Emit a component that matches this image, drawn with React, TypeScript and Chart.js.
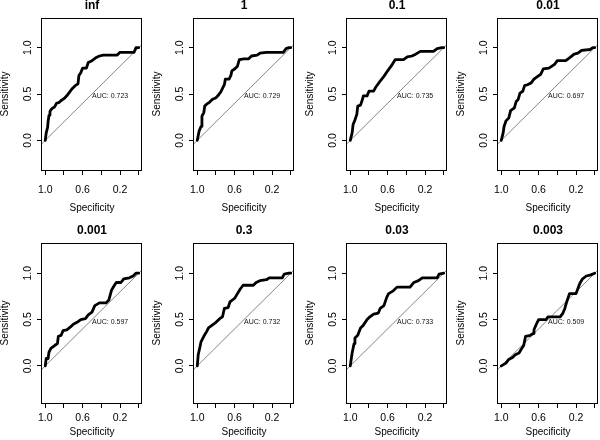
import { useEffect, useRef } from "react";
import { Chart, registerables } from "chart.js";

Chart.register(...registerables);

// ---- data ----
const panelTitles = ["inf", "1", "0.1", "0.01", "0.001", "0.3", "0.03", "0.003"];
const aucValues = ["0.723", "0.729", "0.735", "0.697", "0.597", "0.732", "0.733", "0.509"];

const xTicks = [1.0, 0.8, 0.6, 0.4, 0.2, 0.0];
const xTickLabels = ["1.0", "", "0.6", "", "0.2", ""];
const yTicks = [0.0, 0.5, 1.0];
const yTickLabels = ["0.0", "0.5", "1.0"];

// reference line sensitivity = 1 - specificity (drawn across the whole plot box)
const diagonal: [number, number][] = [[1.5, -0.5], [-0.5, 1.5]];

// ROC curves: [specificity, sensitivity]
const rocInf: [number, number][] = [
  [1, 0], [0.99, 0.08], [0.975, 0.14], [0.97, 0.2], [0.96, 0.27], [0.95, 0.31], [0.94, 0.33],
  [0.92, 0.35], [0.9, 0.36], [0.88, 0.4], [0.85, 0.41], [0.83, 0.43], [0.8, 0.45], [0.77, 0.48],
  [0.74, 0.52], [0.71, 0.56], [0.68, 0.59], [0.65, 0.61], [0.64, 0.7], [0.62, 0.73], [0.6, 0.78],
  [0.56, 0.78], [0.54, 0.84], [0.5, 0.86], [0.46, 0.89], [0.42, 0.91], [0.38, 0.92], [0.23, 0.92],
  [0.2, 0.95], [0.05, 0.95], [0.03, 1.0], [0, 1.0],
];
const roc1: [number, number][] = [
  [1, 0], [0.98, 0.1], [0.96, 0.15], [0.95, 0.26], [0.93, 0.3], [0.92, 0.37], [0.9, 0.39],
  [0.87, 0.41], [0.84, 0.44], [0.8, 0.46], [0.78, 0.48], [0.75, 0.52], [0.73, 0.56], [0.71, 0.6],
  [0.7, 0.66], [0.66, 0.66], [0.64, 0.7], [0.63, 0.75], [0.6, 0.77], [0.57, 0.8], [0.55, 0.87],
  [0.5, 0.88], [0.45, 0.88], [0.42, 0.91], [0.36, 0.92], [0.33, 0.94], [0.26, 0.95], [0.08, 0.95],
  [0.05, 0.99], [0.02, 1.0], [0, 1.0],
];
const roc01: [number, number][] = [
  [1, 0], [0.98, 0.08], [0.97, 0.17], [0.95, 0.22], [0.93, 0.28], [0.92, 0.37], [0.89, 0.38],
  [0.87, 0.44], [0.86, 0.48], [0.82, 0.48], [0.8, 0.53], [0.75, 0.53], [0.73, 0.57], [0.68, 0.64],
  [0.64, 0.69], [0.6, 0.75], [0.55, 0.82], [0.52, 0.87], [0.43, 0.87], [0.39, 0.9], [0.34, 0.91],
  [0.3, 0.93], [0.25, 0.96], [0.11, 0.96], [0.07, 0.99], [0.02, 1.0], [0, 1.0],
];
const roc001: [number, number][] = [
  [1, 0], [0.98, 0.08], [0.97, 0.15], [0.95, 0.21], [0.92, 0.24], [0.9, 0.32], [0.86, 0.35],
  [0.84, 0.42], [0.82, 0.44], [0.8, 0.51], [0.77, 0.53], [0.75, 0.59], [0.72, 0.6], [0.68, 0.62],
  [0.65, 0.66], [0.61, 0.69], [0.58, 0.71], [0.55, 0.77], [0.49, 0.78], [0.43, 0.82], [0.4, 0.86],
  [0.31, 0.86], [0.27, 0.89], [0.22, 0.93], [0.18, 0.94], [0.14, 0.97], [0.05, 0.98], [0.02, 1.0],
  [0, 1.0],
];
const roc0001: [number, number][] = [
  [1, 0], [0.99, 0.08], [0.97, 0.08], [0.96, 0.15], [0.94, 0.19], [0.9, 0.22], [0.87, 0.24],
  [0.86, 0.32], [0.83, 0.33], [0.81, 0.38], [0.77, 0.39], [0.73, 0.42], [0.7, 0.45], [0.66, 0.47],
  [0.62, 0.5], [0.57, 0.51], [0.54, 0.55], [0.5, 0.58], [0.47, 0.65], [0.42, 0.68], [0.35, 0.68],
  [0.32, 0.71], [0.29, 0.82], [0.26, 0.87], [0.24, 0.9], [0.19, 0.9], [0.16, 0.94], [0.1, 0.95],
  [0.06, 0.97], [0.03, 1.0], [0, 1.0],
];
const roc03: [number, number][] = [
  [1, 0], [0.99, 0.12], [0.97, 0.21], [0.96, 0.26], [0.93, 0.32], [0.9, 0.37], [0.88, 0.41],
  [0.84, 0.44], [0.8, 0.47], [0.76, 0.51], [0.73, 0.53], [0.71, 0.62], [0.67, 0.63], [0.65, 0.69],
  [0.6, 0.73], [0.57, 0.78], [0.54, 0.83], [0.51, 0.87], [0.4, 0.87], [0.37, 0.9], [0.33, 0.92],
  [0.26, 0.93], [0.23, 0.95], [0.09, 0.95], [0.07, 0.99], [0.02, 1.0], [0, 1.0],
];
const roc003: [number, number][] = [
  [1, 0], [0.98, 0.14], [0.96, 0.24], [0.95, 0.3], [0.92, 0.33], [0.89, 0.41], [0.86, 0.44],
  [0.82, 0.5], [0.79, 0.53], [0.75, 0.56], [0.7, 0.57], [0.68, 0.62], [0.64, 0.65], [0.61, 0.74],
  [0.59, 0.78], [0.54, 0.81], [0.5, 0.85], [0.36, 0.85], [0.32, 0.9], [0.27, 0.92], [0.23, 0.95],
  [0.07, 0.95], [0.05, 0.99], [0, 1.0],
];
const roc0003: [number, number][] = [
  [1, 0], [0.95, 0.03], [0.92, 0.07], [0.88, 0.09], [0.85, 0.12], [0.81, 0.14], [0.78, 0.19],
  [0.76, 0.22], [0.74, 0.32], [0.69, 0.33], [0.66, 0.35], [0.65, 0.39], [0.62, 0.46], [0.6, 0.5],
  [0.52, 0.5], [0.5, 0.53], [0.37, 0.53], [0.34, 0.57], [0.32, 0.62], [0.3, 0.69], [0.27, 0.78],
  [0.2, 0.78], [0.16, 0.89], [0.13, 0.94], [0.09, 0.97], [0.05, 0.98], [0, 1.0],
];

const rocCurves = [rocInf, roc1, roc01, roc001, roc0001, roc03, roc003, roc0003];

// ---- layout ----
const FONT = '"Liberation Sans", Arial, Helvetica, sans-serif';
const colBoxLeft = [42, 194, 347, 498];
const BOX_W = 100;
const CANVAS_W = 150;
const CANVAS_H = 220;
const Y_AXIS_W = 42;
const rows = [
  { canvasTop: 0, boxTop: 18, boxBottom: 170, yMin: -0.32, yMax: 1.32, tickPad: 8.5, xTitlePad: 6.5 },
  { canvasTop: 220, boxTop: 243, boxBottom: 403, yMin: -0.4, yMax: 1.326, tickPad: 3.7, xTitlePad: 3 },
];

function labelFor(v: number, ticks: number[], labels: string[]) {
  const i = ticks.findIndex((t) => Math.abs(t - v) < 1e-6);
  return i >= 0 ? labels[i] : "";
}

function Panel({ idx }: { idx: number }) {
  const ref = useRef<HTMLCanvasElement>(null);
  const row = Math.floor(idx / 4);
  const col = idx % 4;
  const R = rows[row];
  const canvasLeft = colBoxLeft[col] - Y_AXIS_W;

  useEffect(() => {
    if (!ref.current) return;
    const framePlugin = {
      id: "frame" + idx,
      afterDraw(chart: any) {
        const { ctx, chartArea: a, scales } = chart;
        ctx.save();
        ctx.strokeStyle = "#000";
        ctx.lineWidth = 1;
        ctx.strokeRect(a.left - 0.5, a.top + 0.5, a.right - a.left, a.bottom - a.top);
        ctx.fillStyle = "#000";
        ctx.font = `bold 12px ${FONT}`;
        ctx.textAlign = "center";
        ctx.textBaseline = "middle";
        ctx.fillText(panelTitles[idx], (a.left + a.right) / 2, a.top - 12);
        ctx.font = `7px ${FONT}`;
        ctx.textAlign = "left";
        ctx.fillStyle = "#111";
        ctx.fillText(
          "AUC: " + aucValues[idx],
          scales.x.getPixelForValue(0.5),
          scales.y.getPixelForValue(0.5) + 2
        );
        ctx.restore();
      },
    };

    const chart = new Chart(ref.current, {
      type: "line",
      data: {
        datasets: [
          {
            data: rocCurves[idx].map(([x, y]) => ({ x, y })),
            borderColor: "#000",
            borderWidth: 2.8,
            pointRadius: 0,
            tension: 0,
            fill: false,
            borderJoinStyle: "round",
            borderCapStyle: "round",
            clip: 0,
          },
          {
            data: diagonal.map(([x, y]) => ({ x, y })),
            borderColor: "#858585",
            borderWidth: 1,
            pointRadius: 0,
            fill: false,
            clip: 0,
          },
        ],
      },
      options: {
        responsive: false,
        animation: false,
        events: [],
        layout: {
          padding: {
            top: R.boxTop - R.canvasTop,
            right: CANVAS_W - Y_AXIS_W - BOX_W,
            left: 0,
            bottom: 0,
          },
        },
        plugins: {
          legend: { display: false },
          tooltip: { enabled: false },
          title: { display: false },
        },
        scales: {
          x: {
            type: "linear",
            reverse: true,
            min: -0.035,
            max: 1.035,
            position: "bottom",
            afterBuildTicks: (s: any) => {
              s.ticks = xTicks.map((v) => ({ value: v }));
            },
            afterFit: (s: any) => {
              s.height = R.canvasTop + CANVAS_H - R.boxBottom;
              s.paddingLeft = 0;
              s.paddingRight = 0;
              s.paddingTop = 0;
              s.paddingBottom = 0;
            },
            ticks: {
              autoSkip: false,
              maxRotation: 0,
              minRotation: 0,
              padding: R.tickPad,
              color: "#000",
              font: { family: FONT, size: 10.5 },
              callback: (v: any) => labelFor(Number(v), xTicks, xTickLabels),
            },
            grid: { drawOnChartArea: false, drawTicks: true, tickLength: 5, color: "#000", lineWidth: 1 },
            border: { display: false },
            title: {
              display: true,
              text: "Specificity",
              color: "#000",
              font: { family: FONT, size: 10, lineHeight: 1 },
              padding: { top: 0, bottom: R.xTitlePad },
            },
          },
          y: {
            type: "linear",
            min: R.yMin,
            max: R.yMax,
            position: "left",
            afterBuildTicks: (s: any) => {
              s.ticks = yTicks.map((v) => ({ value: v }));
            },
            afterFit: (s: any) => {
              s.width = Y_AXIS_W;
              s.paddingLeft = 0;
              s.paddingRight = 0;
              s.paddingTop = 0;
              s.paddingBottom = 0;
            },
            ticks: {
              autoSkip: false,
              minRotation: 90,
              maxRotation: 90,
              crossAlign: "center",
              padding: 2,
              color: "#000",
              font: { family: FONT, size: 10.5 },
              callback: (v: any) => labelFor(Number(v), yTicks, yTickLabels),
            },
            grid: { drawOnChartArea: false, drawTicks: true, tickLength: 5, color: "#000", lineWidth: 1 },
            border: { display: false },
            title: {
              display: true,
              text: "Sensitivity",
              color: "#000",
              font: { family: FONT, size: 10, lineHeight: 1 },
              padding: { top: 0, bottom: 0 },
            },
          },
        },
      } as any,
      plugins: [framePlugin],
    });
    return () => chart.destroy();
  }, [idx]);

  return (
    <canvas
      ref={ref}
      width={CANVAS_W}
      height={CANVAS_H}
      style={{ position: "absolute", left: canvasLeft, top: R.canvasTop, display: "block" }}
    />
  );
}

export default function App() {
  return (
    <div
      style={{
        position: "fixed",
        left: 0,
        top: 0,
        width: 600,
        height: 440,
        overflow: "hidden",
        background: "#fff",
      }}
    >
      {panelTitles.map((_, i) => (
        <Panel key={i} idx={i} />
      ))}
    </div>
  );
}
